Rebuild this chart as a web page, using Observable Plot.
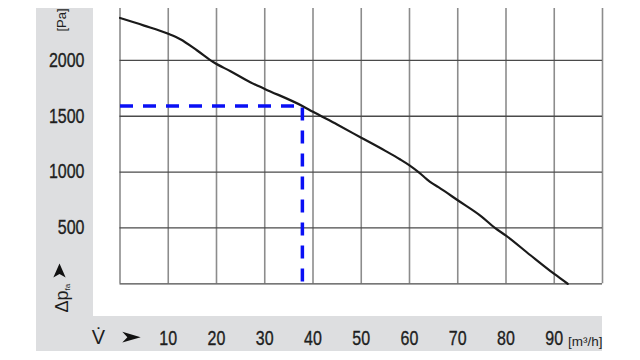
<!DOCTYPE html>
<html>
<head>
<meta charset="utf-8">
<script src="https://cdn.jsdelivr.net/npm/d3@7"></script>
<script src="https://cdn.jsdelivr.net/npm/@observablehq/plot@0.6"></script>
<style>
body { margin: 0; background: #fff; }
#wrap { position: relative; width: 640px; height: 360px; overflow: hidden; }
#bg { position: absolute; left: 36px; top: 8px; width: 566px; height: 343px; background: #dddee0; }
#inner { position: absolute; left: 93px; top: 8px; width: 509px; height: 308px; background: #fff; }
#chart { position: absolute; left: 0; top: 0; }
</style>
</head>
<body>
<div id="wrap"><div id="bg"></div><div id="inner"></div><div id="chart"></div></div>
<script>
// Fan curve: volume flow [m³/h] vs static pressure [Pa]
const flow =     [0,    5,    10,   12.5, 16,   19.4, 22.9, 27,   30,   37.8, 40,   45,   50,   55,   58,   60,   62,  63.5, 64.5, 66,  70,  75,  77.7, 80,  85,  90, 92.8];
const pressure = [2380, 2312, 2238, 2190, 2089, 1984, 1903, 1805, 1745, 1592, 1540, 1426, 1308, 1190, 1115, 1060, 995, 940,  905,  865, 748, 600, 500,  432, 258, 88, 0];

// operating point (dashed guide)
const opFlow = [0, 37.8, 37.8];
const opPressure = [1592, 1592, 0];

const xGrid = [0, 10, 20, 30, 40, 50, 60, 70, 80, 90, 100];
const xTicks = [10, 20, 30, 40, 50, 60, 70, 80, 90];
const yGrid = [0, 500, 1000, 1500, 2000];
const yTicks = [500, 1000, 1500, 2000];

const xLabel = "V̇";
const xUnit = "[m³/h]";
const yLabel = "Δp";
const ySub = "fa";
const yUnit = "[Pa]";

const curve = flow.map((f, i) => ({f, p: pressure[i]}));
const op = opFlow.map((f, i) => ({f, p: opPressure[i]}));

const arrowRight = {draw(ctx, size) {
  const r = Math.sqrt(size / Math.PI);
  ctx.moveTo(r, 0); ctx.lineTo(-r, -0.58 * r); ctx.lineTo(-0.45 * r, 0); ctx.lineTo(-r, 0.58 * r); ctx.closePath();
}};
const arrowUp = {draw(ctx, size) {
  const r = Math.sqrt(size / Math.PI);
  ctx.moveTo(0, -r); ctx.lineTo(0.88 * r, r); ctx.lineTo(0, 0.5 * r); ctx.lineTo(-0.88 * r, r); ctx.closePath();
}};

const font = "'Liberation Sans Narrow', 'Arial Narrow', 'Liberation Sans', Arial, sans-serif";
const ink = "#1e1e1e";

const chart = Plot.plot({
  width: 640,
  height: 360,
  marginLeft: 119.5,
  marginRight: 38,
  marginTop: 8,
  marginBottom: 76.7,
  x: {domain: [0, 100]},
  y: {domain: [0, 2465]},
  style: {background: "transparent", fontFamily: font, fontSize: "20px", color: ink, overflow: "visible"},
  marks: [
    Plot.gridX(xGrid, {stroke: "#8c8c8c", strokeOpacity: 1, strokeWidth: 1.6}),
    Plot.gridY(yGrid, {stroke: "#4a4a4a", strokeOpacity: 1, strokeWidth: 1.3}),
    Plot.axisY(yTicks, {tickSize: 0, tickPadding: 35.5, fontSize: 19.5, fill: ink, label: null, tickFormat: d => String(d)}),
    Plot.axisX(xTicks, {tickSize: 0, tickPadding: 47.5, fontSize: 19.5, fill: ink, label: null, tickFormat: d => String(d)}),
    Plot.line(op, {x: "f", y: "p", stroke: "#0a10f5", strokeWidth: 3.5, strokeDasharray: "13,10", strokeLinecap: "butt"}),
    Plot.line(curve, {x: "f", y: "p", stroke: "#1a1a1a", strokeWidth: 2.2, curve: "monotone-x"}),
    // x-axis label
    Plot.text([xLabel], {text: d => d, frameAnchor: "bottom-left", textAnchor: "middle", lineAnchor: "middle", dx: -21.5, dy: 53.5, fontSize: 20, fill: ink, ariaLabel: "narrow"}),
    Plot.dot([xLabel], {frameAnchor: "bottom-left", dx: 11.5, dy: 53.4, r: 9.2, symbol: arrowRight, fill: "#111", stroke: "none"}),
    Plot.text([xUnit], {text: d => d, frameAnchor: "bottom-right", textAnchor: "end", lineAnchor: "middle", dx: 0, dy: 58, fontSize: 13.5, fill: ink}),
    // y-axis label (rotated)
    Plot.text([yLabel], {text: d => d, frameAnchor: "bottom-left", rotate: -90, textAnchor: "start", lineAnchor: "middle", dx: -58, dy: 28.7, fontSize: 18, fill: ink}),
    Plot.text([ySub], {text: d => d, frameAnchor: "bottom-left", rotate: -90, textAnchor: "start", lineAnchor: "middle", dx: -53, dy: 6.7, fontSize: 8, fill: ink}),
    Plot.dot([yLabel], {frameAnchor: "bottom-left", dx: -60.5, dy: -13.3, r: 7, symbol: arrowUp, fill: "#111", stroke: "none"}),
    Plot.text([yUnit], {text: d => d, frameAnchor: "top-left", rotate: -90, textAnchor: "middle", lineAnchor: "middle", dx: -58.5, dy: 11.5, fontSize: 13, fill: ink})
  ]
});

// condense tick labels and the flow symbol (reference uses a narrow, slightly heavy face)
d3.select(chart)
  .selectAll("g[aria-label='x-axis tick label'] text, g[aria-label='y-axis tick label'] text, g[aria-label='narrow'] text")
  .attr("transform", function() {
    const t = this.getAttribute("transform") || "";
    return t + " scale(0.82,1)";
  })
  .style("stroke", ink)
  .style("stroke-width", "0.35px");

document.getElementById("chart").appendChild(chart);
</script>
</body>
</html>
